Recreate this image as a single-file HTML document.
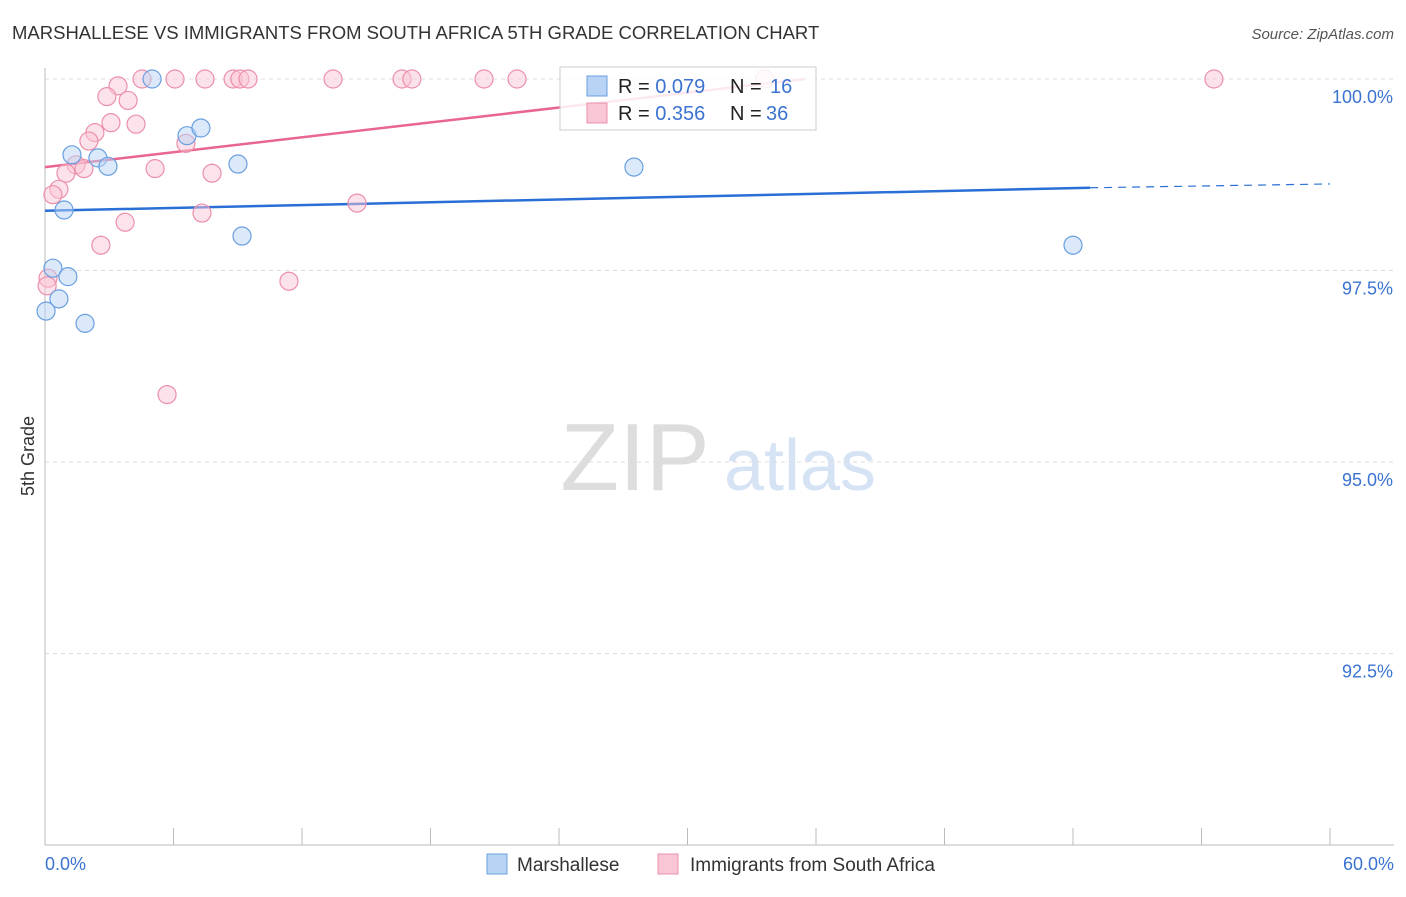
<!DOCTYPE html>
<html><head><meta charset="utf-8"><style>
body{margin:0;background:#fff;font-family:"Liberation Sans",sans-serif}
svg text{font-family:"Liberation Sans",sans-serif}
</style></head><body>
<svg id="c" width="1406" height="892" xmlns="http://www.w3.org/2000/svg">
<text x="12" y="39" font-size="18.5" fill="#333">MARSHALLESE VS IMMIGRANTS FROM SOUTH AFRICA 5TH GRADE CORRELATION CHART</text>
<text x="1394" y="39" font-size="15" fill="#555" font-style="italic" text-anchor="end">Source: ZipAtlas.com</text>
<text x="34" y="456" font-size="18" fill="#333" text-anchor="middle" transform="rotate(-90 34 456)">5th Grade</text>
<g><text x="635" y="490" font-size="96" fill="#ddd" font-family="Liberation Serif" text-anchor="middle">ZIP</text><text x="800" y="490" font-size="72" fill="#d5e3f5" text-anchor="middle">atlas</text></g>
<g id="grid"></g><g id="lines"></g><g id="pts"></g>
<g>
<rect x="560" y="67" width="256" height="63" fill="#fff" fill-opacity="0.85" stroke="#ccc"/>
<rect x="587" y="76" width="20" height="20" fill="#b9d3f5" stroke="#6a9fe0"/>
<rect x="587" y="103" width="20" height="20" fill="#f9c6d5" stroke="#ec8faa"/>
<text x="618" y="93" font-size="20" fill="#222">R = <tspan fill="#3b73d1">0.079</tspan></text>
<text x="730" y="93" font-size="20" fill="#222">N = <tspan fill="#3b73d1" x="770">16</tspan></text>
<text x="618" y="120" font-size="20" fill="#222">R = <tspan fill="#3b73d1">0.356</tspan></text>
<text x="730" y="120" font-size="20" fill="#222">N = <tspan fill="#3b73d1" x="766">36</tspan></text>
</g>
<g>
<rect x="487" y="854" width="20" height="20" fill="#b9d3f5" stroke="#6a9fe0"/>
<text x="517" y="871" font-size="19" fill="#333">Marshallese</text>
<rect x="658" y="854" width="20" height="20" fill="#f9c6d5" stroke="#ec8faa"/>
<text x="690" y="871" font-size="19" fill="#333">Immigrants from South Africa</text>
</g>
</svg>
<script>
const yTicks=[100,97.5,95,92.5];
const yTickLabels=["100.0%","97.5%","95.0%","92.5%"];
const xTicks=[0,6,12,18,24,30,36,42,48,54,60];
const blueX=[5.0,1.26,2.47,2.94,6.63,7.28,9.01,9.2,0.89,0.37,1.07,0.65,0.05,1.87,27.5,48.0];
const blueY=[100,99.01,98.97,98.86,99.26,99.36,98.89,97.95,98.29,97.53,97.42,97.13,96.97,96.81,98.85,97.83];
const pinkX=[4.53,6.07,7.47,8.78,9.1,9.48,13.45,16.67,17.13,20.5,22.04,33.6,54.58,3.41,2.89,3.88,3.08,4.25,2.33,2.05,6.58,1.45,1.82,0.98,5.14,7.8,0.65,0.37,14.57,7.33,3.74,2.61,11.39,5.7,0.14,0.1];
const pinkY=[100,100,100,100,100,100,100,100,100,100,100,100,100,99.91,99.77,99.72,99.43,99.41,99.3,99.19,99.16,98.88,98.83,98.77,98.83,98.77,98.56,98.49,98.38,98.25,98.13,97.83,97.36,95.88,97.4,97.3];
const blueLine=[[0,98.28],[48.8,98.58],[60,98.63]];
const pinkLine=[[0,98.85],[35.5,100]];
const X=v=>45+v/60*1285, Y=v=>79+(100-v)*76.6;
const NS="http://www.w3.org/2000/svg";
function mk(t,a,p){const e=document.createElementNS(NS,t);for(const k in a)e.setAttribute(k,a[k]);p.appendChild(e);return e;}
const g=document.getElementById('grid');
yTicks.forEach((t,i)=>{
 const l=mk('line',{x1:45,x2:1394,y1:Y(t),y2:Y(t),stroke:'#ddd','stroke-dasharray':'4 4'},g);
 
 
 const tx=mk('text',{x:1393,y:Y(t)+24,'font-size':18,fill:'#3b73d1','text-anchor':'end'},g);tx.textContent=yTickLabels[i];
 
 
});
const ax=mk('line',{x1:45,x2:45,y1:68,y2:845,stroke:'#bbb'},g);


const bx=mk('line',{x1:45,x2:1394,y1:845,y2:845,stroke:'#bbb'},g);


xTicks.forEach(t=>{const l=mk('line',{x1:X(t),x2:X(t),y1:828,y2:845,stroke:'#bbb'},g);
 
 });
[["0.0%",45,'start'],["60.0%",1394,'end']].forEach(([s,x,a])=>{const t=mk('text',{x:x,y:870,'font-size':18,fill:'#3b73d1','text-anchor':a},g);t.textContent=s;
 
 });
const P=document.getElementById('pts');
function pts(xs,ys,f,s,n){xs.forEach((x,i)=>{const c=mk('circle',{cx:X(x),cy:Y(ys[i]),r:9,fill:f,'fill-opacity':0.5,stroke:s,'stroke-width':1.2},P);
 
 });}
pts(pinkX,pinkY,'#f9c6d5','#ec8faa','south-africa-point');
pts(blueX,blueY,'#b9d3f5','#6a9fe0','marshallese-point');
const L=document.getElementById('lines');
const b1=mk('line',{x1:X(blueLine[0][0]),y1:Y(blueLine[0][1]),x2:X(blueLine[1][0]),y2:Y(blueLine[1][1]),stroke:'#2a6fd6','stroke-width':2.5},L);


const b2=mk('line',{x1:X(blueLine[1][0]),y1:Y(blueLine[1][1]),x2:X(blueLine[2][0]),y2:Y(blueLine[2][1]),stroke:'#2a6fd6','stroke-width':1.2,'stroke-dasharray':'8 6'},L);


const p1=mk('line',{x1:X(pinkLine[0][0]),y1:Y(pinkLine[0][1]),x2:X(pinkLine[1][0]),y2:Y(pinkLine[1][1]),stroke:'#e8668f','stroke-width':2.5},L);


</script>
</body></html>
